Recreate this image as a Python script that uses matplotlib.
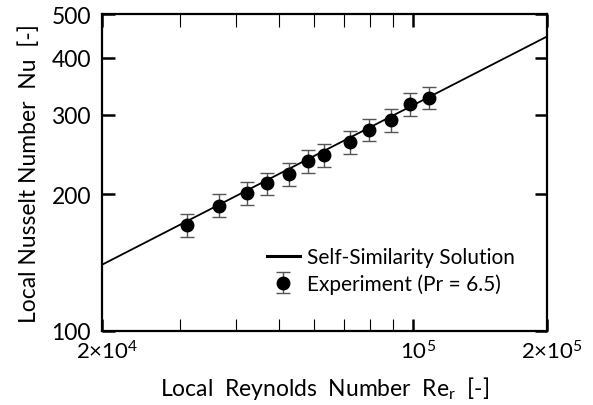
import numpy as np
import matplotlib
matplotlib.use("Agg")
import matplotlib.pyplot as plt
import matplotlib.transforms as mtransforms
from matplotlib.ticker import FixedLocator, NullFormatter, NullLocator

plt.rcParams['font.family'] = ['Lato', 'DejaVu Sans']
plt.rcParams['mathtext.fontset'] = 'custom'
plt.rcParams['mathtext.rm'] = 'Lato'
plt.rcParams['mathtext.it'] = 'Lato:italic'

## data
re_exp = [31000, 36600, 42400, 47000, 52600, 58100, 63200, 72000, 79500, 89200, 98600, 108800]
nu_exp = [171, 189, 201.5, 211.5, 222, 237, 244, 261, 278, 292, 316, 327]
nu_err = [10, 11, 12, 12, 13, 14, 14, 15, 16, 17, 18, 19]

# self-similarity solution (power law, straight on log-log)
re_line = [2e4, 2e5]
nu_line = [140, 446]

fig = plt.figure(figsize=(5.93, 4.06), dpi=100)
ax = fig.add_axes([102/593, 1 - 332/406, 445/593, 317/406])

ax.plot(re_line, nu_line, 'k-', lw=1.3, label='Self-Similarity Solution')
ax.errorbar(re_exp, nu_exp, yerr=nu_err, fmt='o', color='k', ms=9,
            ecolor='#555555', elinewidth=1.0, capsize=5, capthick=1.0,
            label='Experiment (Pr = 6.5)')

ax.set_xscale('log')
ax.set_yscale('log')
ax.set_xlim(2e4, 2e5)
ax.set_ylim(100, 500)

ax.xaxis.set_major_locator(FixedLocator([2e4, 1e5, 2e5]))
ax.xaxis.set_minor_locator(FixedLocator([3e4, 4e4, 5e4, 6e4, 7e4, 8e4, 9e4]))
ax.xaxis.set_minor_formatter(NullFormatter())
ax.set_xticklabels([r'$2{\times}10^4$', r'$10^5$', r'$2{\times}10^5$'])

ax.yaxis.set_major_locator(FixedLocator([100, 200, 300, 400, 500]))
ax.yaxis.set_minor_locator(NullLocator())
ax.set_yticklabels(['100', '200', '300', '400', '500'])

ax.tick_params(which='both', direction='in', top=True, right=True, labelsize=16)
ax.tick_params(axis='x', pad=6)
ax.tick_params(axis='y', pad=8, labelsize=16.5)
ax.tick_params(which='major', length=9, width=1.8)
ax.tick_params(which='minor', length=9, width=0.8)
for s in ax.spines.values():
    s.set_linewidth(1.6)

# labels sit a few pixels right of their ticks in the original
shift = mtransforms.ScaledTranslation(5/100, 0, fig.dpi_scale_trans)
for lbl in ax.get_xticklabels():
    lbl.set_transform(lbl.get_transform() + shift)

ax.set_xlabel(r'Local  Reynolds  Number  Re$_\mathrm{r}$  [-]', fontsize=16.5)
ax.set_ylabel('Local Nusselt Number  Nu  [-]', fontsize=16.5)
ax.xaxis.set_label_coords(0.5, -0.135)
ax.yaxis.set_label_coords(-0.14, 0.5)

leg = ax.legend(loc='upper left', bbox_to_anchor=(0.37, 0.265), frameon=False,
                borderpad=0, borderaxespad=0,
                fontsize=15, handlelength=1.6, handletextpad=0.35, labelspacing=0.3)
leg.get_lines()[0].set_linewidth(2.2)

fig.savefig('out.png', dpi=100)
